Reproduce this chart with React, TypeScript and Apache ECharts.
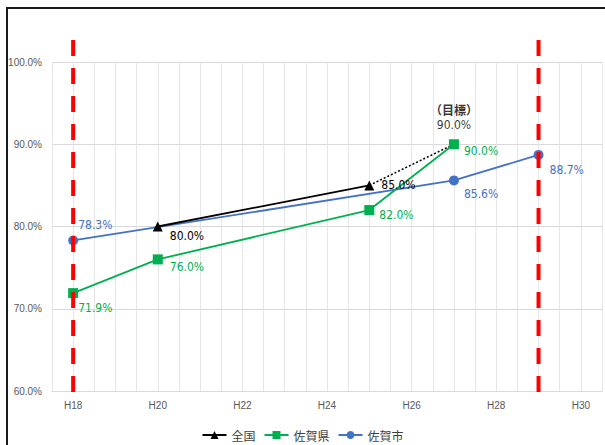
import React, { useEffect, useRef } from "react";
import * as echarts from "echarts";

const categories = ["H18", "H19", "H20", "H21", "H22", "H23", "H24", "H25", "H26", "H27", "H28", "H29", "H30"];

const zenkokuYears = ["H20", "H25"];
const zenkokuValues = [80.0, 85.0];

const sagaKenYears = ["H18", "H20", "H25", "H27"];
const sagaKenValues = [71.9, 76.0, 82.0, 90.0];

const sagaShiYears = ["H18", "H27", "H29"];
const sagaShiValues = [78.3, 85.6, 88.7];

const targetYears = ["H25", "H27"];
const targetValues = [85.0, 90.0];
const targetTitle = "（目標）";

const periodYears = ["H18", "H29"];

// layout: label offsets (px) per point, kept apart from data
const zenkokuLabelOffsets = [[7, 9], [7, 0]];
const sagaKenLabelOffsets = [[0, 15], [7, 8], [5, 5], [5, 7]];
const sagaShiLabelOffsets = [[0, -15], [5, 14], [6, 15]];

const idx = (y: string) => categories.indexOf(y);
const fmt = (v: number) => v.toFixed(1) + "%";

const NARROW = "'Liberation Sans Narrow', 'DejaVu Sans Condensed', 'Liberation Sans', sans-serif";

function pts(years: string[], values: number[], offsets: number[][] | null, color: string) {
  return years.map((y, i) => {
    const d: any = { value: [idx(y), values[i]] };
    if (offsets) {
      d.label = {
        show: true,
        position: "right",
        distance: 0,
        offset: offsets[i],
        formatter: fmt(values[i]),
        color,
        fontSize: 12,
        fontFamily: NARROW,
      };
    }
    return d;
  });
}

export default function App() {
  const ref = useRef<HTMLDivElement>(null);
  useEffect(() => {
    document.body.style.margin = "0";
    const chart = echarts.init(ref.current!, null, { renderer: "svg" });
    const BLACK = "#000000";
    const GREEN = "#00B050";
    const BLUE = "#4472C4";
    const periodSeries = periodYears.map((y) => ({
      type: "line",
      name: "period-" + y,
      data: [[idx(y), 102.67], [idx(y), 59.85]],
      symbol: "none",
      clip: false,
      z: 5,
      silent: true,
      lineStyle: { color: "#FF0000", width: 4, type: [16, 12] },
    }));
    chart.setOption({
      animation: false,
      textStyle: { fontFamily: "'Liberation Sans', sans-serif" },
      grid: { left: 52, top: 62, width: 554, height: 329 },
      legend: {
        data: ["全国", "佐賀県", "佐賀市"],
        left: "center",
        top: 424,
        itemWidth: 24,
        itemHeight: 10,
        itemGap: 8,
        textStyle: { fontFamily: "'Noto Sans CJK JP', sans-serif", fontSize: 12, color: "#404040" },
      },
      xAxis: {
        type: "value",
        min: -0.5,
        max: 12.5,
        interval: 0.5,
        axisLine: { show: true, lineStyle: { color: "#d9d9d9" } },
        axisTick: { show: false },
        splitLine: { show: true, lineStyle: { color: "#e6e6e6", width: 1 } },
        axisLabel: {
          fontSize: 10,
          color: "#595959",
          margin: 9,
          formatter: (v: number) => {
            const r = Math.round(v * 2) / 2;
            if (Number.isInteger(r) && r % 2 === 0 && r >= 0 && r < categories.length) return categories[r];
            return "";
          },
        },
      },
      yAxis: {
        type: "value",
        min: 60,
        max: 100,
        interval: 10,
        axisLine: { show: false },
        axisTick: { show: false },
        splitLine: { show: true, lineStyle: { color: "#d9d9d9", width: 1 } },
        axisLabel: { fontSize: 10, color: "#595959", margin: 10, formatter: (v: number) => fmt(v) },
      },
      graphic: [
        {
          type: "polyline",
          shape: { points: [[7, 445], [7, 8], [606, 8]] },
          style: { stroke: "#1a1a1a", lineWidth: 2, fill: "none" },
          z: 10,
        },
      ],
      series: [
        {
          type: "line",
          name: "佐賀市",
          data: pts(sagaShiYears, sagaShiValues, sagaShiLabelOffsets, BLUE),
          symbol: "circle",
          symbolSize: 10,
          itemStyle: { color: BLUE },
          lineStyle: { color: BLUE, width: 1.8 },
          z: 2,
        },
        {
          type: "line",
          name: "佐賀県",
          data: pts(sagaKenYears, sagaKenValues, sagaKenLabelOffsets, GREEN),
          symbol: "rect",
          symbolSize: 10,
          itemStyle: { color: GREEN },
          lineStyle: { color: GREEN, width: 1.8 },
          z: 3,
        },
        {
          type: "line",
          name: "target",
          data: targetYears.map((y, i) => [idx(y), targetValues[i]]),
          symbol: "none",
          lineStyle: { color: BLACK, width: 1.5, type: [2, 2] },
          z: 3,
          silent: true,
        },
        {
          type: "line",
          name: "全国",
          data: pts(zenkokuYears, zenkokuValues, zenkokuLabelOffsets, BLACK),
          symbol: "triangle",
          symbolSize: 10,
          itemStyle: { color: BLACK },
          lineStyle: { color: BLACK, width: 1.8 },
          z: 4,
        },
        {
          type: "scatter",
          name: "target-label",
          data: [[idx(targetYears[1]), targetValues[1]]],
          symbolSize: 1,
          itemStyle: { color: "rgba(0,0,0,0)" },
          silent: true,
          label: {
            show: true,
            position: "top",
            distance: 11,
            formatter: "{t|" + targetTitle + "}\n{v|" + fmt(targetValues[1]) + "}",
            rich: {
              t: { fontSize: 12, fontWeight: "bold", color: "#000", fontFamily: "'Noto Sans CJK JP', sans-serif", lineHeight: 16, align: "center" },
              v: { fontSize: 12, color: "#000", fontFamily: NARROW, lineHeight: 15, align: "center" },
            },
          },
        },
        ...periodSeries,
      ],
    });
    return () => chart.dispose();
  }, []);
  return <div ref={ref} style={{ width: 605, height: 445 }} />;
}
